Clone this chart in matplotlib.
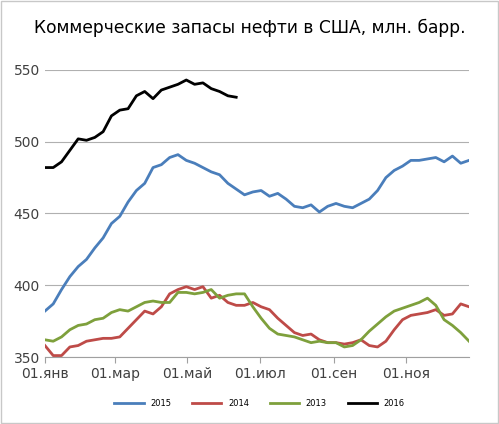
import matplotlib.pyplot as plt
import numpy as np

s2015 = [382,387,397,406,413,418,426,433,443,448,458,466,471,482,484,489,491,487,485,482,
         479,477,471,467,463,465,466,462,464,460,455,454,456,451,455,457,455,454,457,460,
         466,475,480,483,487,487,488,489,486,490,485,487]
s2014 = [358,351,351,357,358,361,362,363,363,364,370,376,382,380,385,394,397,399,397,399,
         391,393,388,386,386,388,385,383,377,372,367,365,366,362,360,360,359,360,362,358,
         357,361,369,376,379,380,381,383,379,380,387,385]
s2013 = [362,361,364,369,372,373,376,377,381,383,382,385,388,389,388,388,395,395,394,395,
         397,391,393,394,394,385,377,370,366,365,364,362,360,361,360,360,357,358,362,368,
         373,378,382,384,386,388,391,386,376,372,367,361]
s2016 = [482,482,486,494,502,501,503,507,518,522,523,532,535,530,536,538,540,543,540,541,
         537,535,532,531]
tick_days = [0, 59, 120, 181, 243, 304]
tick_labels = ["01.янв", "01.мар", "01.май", "01.июл", "01.сен", "01.ноя"]

fig = plt.figure(figsize=(4.99, 4.24), dpi=100)
ax = fig.add_axes([0.09, 0.158, 0.85, 0.677])
series = [("2015", s2015, "#4A7EBB"), ("2014", s2014, "#BE4B48"),
          ("2013", s2013, "#7EA03C"), ("2016", s2016, "#000000")]
for name, s, c in series:
    ax.plot(np.arange(len(s)) * 7, s, color=c, lw=2.0, label=name)
ax.set_xlim(0, 357)
ax.set_ylim(350, 550)
ax.set_yticks([350, 400, 450, 500, 550])
ax.set_xticks(tick_days)
ax.set_xticklabels(tick_labels)
ax.grid(axis="y", color="#b0b0b0", lw=0.8)
ax.set_axisbelow(True)
for sp in ["top", "right", "left"]:
    ax.spines[sp].set_visible(False)
ax.spines["bottom"].set_color("#a0a0a0")
ax.tick_params(axis="y", length=0, labelsize=10, colors="#404040")
ax.tick_params(axis="x", length=4, color="#a0a0a0", labelsize=10, colors="#404040")
fig.suptitle("Коммерческие запасы нефти в США, млн. барр.", y=0.955, fontsize=12.3)
fig.legend(loc="lower center", bbox_to_anchor=(0.52, 0.02), ncol=4, frameon=False,
           fontsize=6, handlelength=3.5, columnspacing=2.5)
fig.patches.append(plt.Rectangle((0.003, 0.003), 0.994, 0.994, transform=fig.transFigure,
                                 fill=False, edgecolor="#c8c8c8", lw=1))
fig.savefig("out.png", dpi=100)
